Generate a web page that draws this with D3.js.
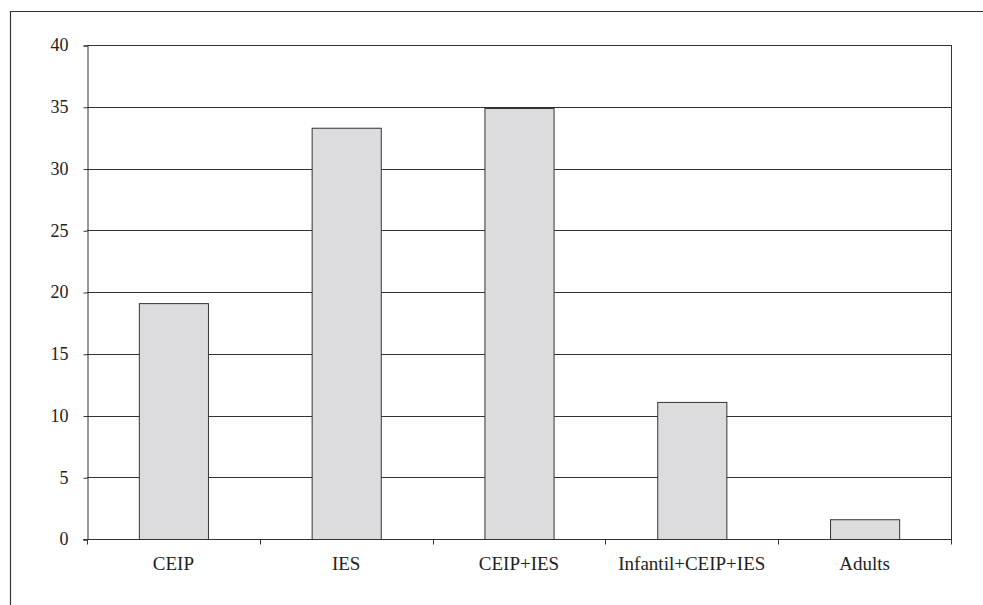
<!DOCTYPE html>
<html><head><meta charset="utf-8">
<script src="https://cdn.jsdelivr.net/npm/d3@7"></script>
<style>body{margin:0;background:#fff}svg{display:block}</style>
</head><body>
<svg id="c" width="983" height="605"></svg>
<script>
const categories = ["CEIP", "IES", "CEIP+IES", "Infantil+CEIP+IES", "Adults"];
const values = [19.1, 33.3, 34.9, 11.1, 1.6];
const yTicks = [0, 5, 10, 15, 20, 25, 30, 35, 40];

const svg = d3.select("#c");
const L = 87, R = 951, T = 45, B = 539;
const font = "'Liberation Serif', 'DejaVu Serif', serif";

// outer frame (left and top edges visible)
svg.append("path").attr("d", "M10.5,605 V11.5 H983").attr("fill", "none").attr("stroke", "#333").attr("stroke-width", 1.2);

const x = d3.scaleBand().domain(categories).range([L, R]).paddingInner(0.6).paddingOuter(0.3);
const xb = d3.scaleBand().domain(categories).range([L, R]);
const y = d3.scaleLinear().domain([0, 40]).range([B, T]);

// gridlines
svg.append("g").selectAll("line").data(yTicks.filter(d => d > 0)).join("line")
  .attr("x1", L).attr("x2", R).attr("y1", d => Math.round(y(d)) + 0.5).attr("y2", d => Math.round(y(d)) + 0.5)
  .attr("stroke", "#333").attr("stroke-width", 1);

// right border
svg.append("line").attr("x1", R + 0.5).attr("x2", R + 0.5).attr("y1", T).attr("y2", B + 5).attr("stroke", "#333");

// bars
svg.append("g").selectAll("rect").data(values).join("rect")
  .attr("x", (d, i) => x(categories[i]) + 0.5)
  .attr("width", x.bandwidth())
  .attr("y", d => y(d) + 0.5)
  .attr("height", d => B - y(d))
  .attr("fill", "#dcdcde").attr("stroke", "#333").attr("stroke-width", 1);

// y axis
const ya = d3.axisLeft(y).tickValues(yTicks).tickSize(4).tickPadding(15).tickFormat(d3.format("d"));
const gy = svg.append("g").attr("transform", `translate(${L + 0.5},0.5)`).call(ya);
gy.select(".domain").attr("stroke", "#333");
gy.selectAll(".tick line").attr("stroke", "#333");
gy.selectAll("text").attr("font-family", font).attr("font-size", 18).attr("fill", "#222").attr("dy", "0.3em");

// x axis
const gx = svg.append("g").attr("transform", `translate(0,${B + 0.5})`);
gx.append("line").attr("x1", L - 4).attr("x2", R).attr("stroke", "#333");
const bounds = categories.map(c => xb(c)).concat([R]);
gx.selectAll("line.t").data(bounds).join("line").attr("class", "t")
  .attr("x1", d => Math.round(d) + 0.5).attr("x2", d => Math.round(d) + 0.5).attr("y1", 0).attr("y2", 5).attr("stroke", "#333");
gx.selectAll("text").data(categories).join("text")
  .attr("x", d => xb(d) + xb.bandwidth() / 2).attr("y", 30)
  .attr("text-anchor", "middle").attr("font-family", font).attr("font-size", 19).attr("fill", "#222")
  .text(d => d);
</script>
</body></html>
